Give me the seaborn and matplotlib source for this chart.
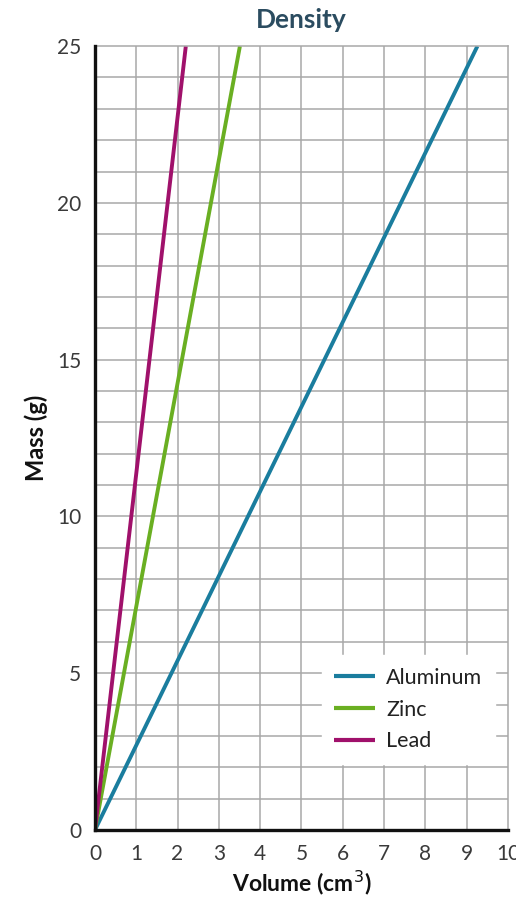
import matplotlib
matplotlib.use("Agg")
import matplotlib.pyplot as plt
import seaborn as sns
import pandas as pd

# Data (volume in cm^3, mass in g)
materials = ["Aluminum", "Zinc", "Lead"]
aluminum_volume = [0, 9.26]
aluminum_mass = [0, 25]
zinc_volume = [0, 3.51]
zinc_mass = [0, 25]
lead_volume = [0, 2.2]
lead_mass = [0, 25]
x_ticks = [0, 1, 2, 3, 4, 5, 6, 7, 8, 9, 10]
y_ticks = [0, 5, 10, 15, 20, 25]
colors = ["#1a7d9e", "#6aaf22", "#a0116b"]

df = pd.concat([
    pd.DataFrame({"Volume": aluminum_volume, "Mass": aluminum_mass, "Material": "Aluminum"}),
    pd.DataFrame({"Volume": zinc_volume, "Mass": zinc_mass, "Material": "Zinc"}),
    pd.DataFrame({"Volume": lead_volume, "Mass": lead_mass, "Material": "Lead"}),
])

sns.set_theme(style="white")
plt.rcParams["font.family"] = ["Lato", "DejaVu Sans"]

fig = plt.figure(figsize=(5.16, 9.0), dpi=100)
ax = fig.add_axes([0.184, 0.0778, 0.8005, 0.871])

ax.set_xlim(0, 10)
ax.set_ylim(0, 25)
for v in range(1, 10):
    ax.axvline(v, color="#a8a8a8", lw=1.1, zorder=0)
for v in range(1, 25):
    ax.axhline(v, color="#a8a8a8", lw=1.1, zorder=0)

sns.lineplot(data=df, x="Volume", y="Mass", hue="Material", hue_order=materials,
             palette=colors, lw=2.8, ax=ax, legend=True, solid_capstyle="butt")

ax.set_xticks(x_ticks)
ax.set_yticks(y_ticks)
ax.set_xticklabels([str(t) for t in x_ticks])
ax.set_yticklabels([str(t) for t in y_ticks])
ax.tick_params(axis="both", length=0, labelsize=15, labelcolor="#3a3a3a")
ax.tick_params(axis="x", pad=10)
ax.tick_params(axis="y", pad=10)

for s in ["top", "right"]:
    ax.spines[s].set_color("#a8a8a8")
    ax.spines[s].set_linewidth(1.1)
for s in ["left", "bottom"]:
    ax.spines[s].set_color("#111111")
    ax.spines[s].set_linewidth(2.4)
    ax.spines[s].set_zorder(5)

ax.set_xlabel("Volume (cm$^3$)", fontsize=16.5, fontweight="bold", color="#111111", labelpad=3)
ax.set_ylabel("Mass (g)", fontsize=17, fontweight="bold", color="#111111", labelpad=6)
ax.set_title("Density", fontsize=19, fontweight="bold", color="#2b4c60", pad=13)

leg = ax.legend(loc="lower right", bbox_to_anchor=(0.995, 0.07), frameon=True,
                fontsize=15.5, handlelength=1.9, handletextpad=0.5, labelspacing=0.55,
                borderpad=0.6, fancybox=False)
leg.get_frame().set_facecolor("white")
leg.get_frame().set_edgecolor("white")
leg.get_frame().set_alpha(1)
for t in leg.get_texts():
    t.set_color("#222222")
for h in leg.get_lines():
    h.set_linewidth(3)

fig.savefig("out.png", dpi=100)
